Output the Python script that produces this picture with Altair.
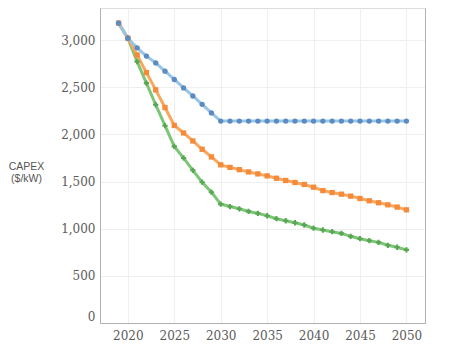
import altair as alt
import pandas as pd

years = list(range(2019, 2051))
series_names = ["High", "Mid", "Low"]
high = [3180, 3020, 2918, 2830, 2758, 2670, 2582, 2493, 2407, 2319, 2227, 2141,
        2141, 2141, 2141, 2141, 2141, 2141, 2141, 2141, 2141, 2141, 2141, 2141,
        2141, 2141, 2141, 2141, 2141, 2141, 2141, 2141]
mid = [3180, 3020, 2842, 2655, 2472, 2285, 2095, 2015, 1930, 1842, 1761, 1677,
       1650, 1626, 1602, 1581, 1560, 1535, 1511, 1490, 1469, 1440, 1404, 1383,
       1366, 1345, 1320, 1296, 1275, 1253, 1229, 1200]
low = [3180, 3020, 2771, 2543, 2314, 2092, 1873, 1750, 1619, 1493, 1387, 1261,
       1235, 1211, 1183, 1162, 1137, 1106, 1084, 1063, 1039, 1005, 986, 968,
       950, 919, 894, 873, 855, 824, 803, 775]
y_ticks = [0, 500, 1000, 1500, 2000, 2500, 3000]
x_ticks = [2020, 2025, 2030, 2035, 2040, 2045, 2050]

rows = []
for name, vals, order in [("Low", low, 0), ("Mid", mid, 1), ("High", high, 2)]:
    for yr, v in zip(years, vals):
        rows.append({"year": yr, "capex": v, "series": name, "ord": order})
df = pd.DataFrame(rows)

line_colors = ["#97c5e6", "#f8a75c", "#7cc676"]
point_colors = ["#5b8bc2", "#f48a3a", "#58a653"]

xs = alt.Scale(domain=[2017, 2052], nice=False, zero=False)
ys = alt.Scale(domain=[0, 3340], nice=False)

lines = alt.Chart(df).mark_line(strokeWidth=3).encode(
    x=alt.X("year:Q", scale=xs,
            axis=alt.Axis(values=x_ticks, format="d", title=None, ticks=False,
                          labelFont="DejaVu Serif", labelFontSize=12, labelColor="#5a5a5a",
                          labelPadding=7, gridColor="#efefef", domainColor="#b0b0b0",
                          labelFlush=False)),
    y=alt.Y("capex:Q", scale=ys,
            axis=alt.Axis(values=y_ticks, format=",d", ticks=False,
                          labelFont="DejaVu Serif", labelFontSize=12, labelColor="#5a5a5a",
                          labelPadding=5, gridColor="#efefef", domainColor="#b0b0b0",
                          labelFlush=True,
                          title=["CAPEX", "($/kW)"], titleAngle=0, titleX=-74, titleY=158,
                          titleAlign="center", titleBaseline="middle", titleLineHeight=12,
                          titleFont="Liberation Sans", titleFontSize=10.5,
                          titleFontWeight="normal", titleColor="#555555")),
    color=alt.Color("series:N", scale=alt.Scale(domain=series_names, range=line_colors), legend=None),
    detail="series:N",
)

points = alt.Chart(df).mark_point(filled=True, size=28, opacity=1).encode(
    x=alt.X("year:Q", scale=xs),
    y=alt.Y("capex:Q", scale=ys,
            axis=alt.Axis(orient="right", labels=False, ticks=False, grid=False,
                          title=None, domainColor="#b0b0b0")),
    color=alt.Color("series:N", scale=alt.Scale(domain=series_names, range=point_colors), legend=None),
    shape=alt.Shape("series:N", scale=alt.Scale(domain=series_names, range=["circle", "square", "cross"]), legend=None),
    order="ord:Q",
)

chart = alt.layer(lines, points).resolve_scale(color="independent").resolve_axis(y="independent").properties(
    width=325, height=315,
    autosize=alt.AutoSizeParams(type="none"),
    padding={"left": 92, "top": 0, "right": 29, "bottom": 31},
).configure_view(stroke=None).configure(background="white")

chart.save("out.html", embed_options={"renderer": "svg", "actions": False})
